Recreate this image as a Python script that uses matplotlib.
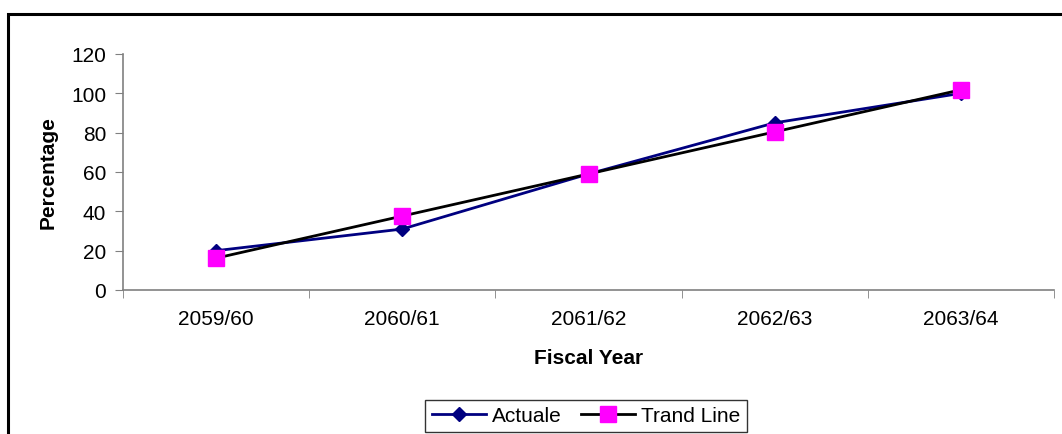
import matplotlib
matplotlib.use("Agg")
import matplotlib.pyplot as plt
from matplotlib.patches import Rectangle

plt.rcParams['font.family'] = ['Liberation Sans', 'DejaVu Sans']

categories = ["2059/60", "2060/61", "2061/62", "2062/63", "2063/64"]
actuale = [20, 31, 59, 85, 100]
trend = [16.2, 37.6, 59, 80.4, 101.8]

W, H = 1062, 435
fig = plt.figure(figsize=(W / 100, H / 100), dpi=100)

# outer frame (extends beyond right and bottom edges)
fig.patches.append(Rectangle((8 / W, -0.05), 1.1, (H - 15) / H + 0.05,
                             transform=fig.transFigure, fill=False,
                             edgecolor='black', linewidth=2.2, zorder=0))

left, right, top, bottom = 123, 1054, 55, 291
ax = fig.add_axes([left / W, 1 - bottom / H, (right - left) / W, (bottom - top) / H])

x = list(range(len(categories)))
ax.plot(x, actuale, color='#000080', linewidth=2, marker='D', markersize=7,
        markerfacecolor='#000080', markeredgecolor='#000080', label='Actuale', zorder=3)
ax.plot(x, trend, color='black', linewidth=2, marker='s', markersize=11,
        markerfacecolor='#FF00FF', markeredgecolor='#FF00FF', label='Trand Line', zorder=4)

FS = 15
ax.set_xlim(-0.5, len(categories) - 0.5)
ax.set_ylim(0, 120)
ax.set_yticks(range(0, 121, 20))
ax.set_xticks(x)
ax.set_xticklabels(categories)
ax.set_xticks([i - 0.5 for i in range(len(categories) + 1)], minor=True)
ax.tick_params(axis='x', which='major', length=0, pad=14, labelsize=FS)
ax.tick_params(axis='x', which='minor', length=6, color='#808080', direction='out')
ax.tick_params(axis='y', length=6, color='#808080', labelsize=FS, pad=6)

for s in ['top', 'right']:
    ax.spines[s].set_visible(False)
for s in ['left', 'bottom']:
    ax.spines[s].set_color('#808080')
    ax.spines[s].set_linewidth(1.2)

ax.set_xlabel('Fiscal Year', fontsize=FS, fontweight='bold', labelpad=14)
ax.set_ylabel('Percentage', fontsize=FS, fontweight='bold', labelpad=10)

leg = ax.legend(loc='center', bbox_to_anchor=(586 / W, 1 - 417 / H),
                bbox_transform=fig.transFigure, ncol=2, frameon=True,
                fancybox=False, edgecolor='black', fontsize=FS,
                handlelength=2.6, columnspacing=0.9, borderpad=0.3,
                handletextpad=0.3, borderaxespad=0)
leg.get_frame().set_linewidth(1.0)

fig.savefig('out.png', dpi=100, facecolor='white')
